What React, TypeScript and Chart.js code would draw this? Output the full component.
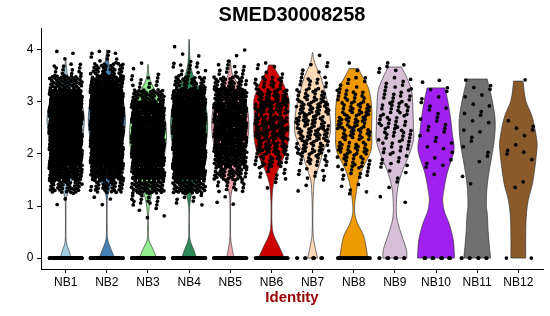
import React, { useEffect, useRef } from "react";
import { Chart, registerables } from "chart.js";

Chart.register(...registerables);

const plotTitle = "SMED30008258";
const xAxisTitle = "Identity";
const categories = ["NB1", "NB2", "NB3", "NB4", "NB5", "NB6", "NB7", "NB8", "NB9", "NB10", "NB11", "NB12"];
const violinColors = ["#A6CEE3", "#4682B4", "#90EE90", "#2E8B57", "#EEA2AD", "#CD0000", "#FFDAB9", "#EE9A00", "#D8BFD8", "#A020F0", "#707070", "#8B5A2B"];
const yTicks = [0, 1, 2, 3, 4];

// number of cells with expression exactly 0, per identity
const zeroCounts = [150, 150, 150, 150, 120, 50, 10, 50, 10, 12, 8, 2];

// histogram of non-zero expression values, bins of 0.25 starting at 0.5 (0.5-0.75, 0.75-1.0, ... 4.0-4.25)
const binLow = 0.5;
const binStep = 0.25;
const binCounts = [
  [0, 0, 3, 40, 90, 140, 180, 200, 200, 180, 130, 50, 15, 3, 0],
  [0, 0, 3, 35, 80, 130, 170, 200, 210, 200, 160, 90, 35, 10, 0],
  [0, 4, 15, 50, 100, 130, 150, 150, 130, 100, 45, 12, 3, 0, 0],
  [0, 0, 8, 50, 110, 160, 180, 190, 180, 150, 90, 35, 12, 3, 1],
  [0, 0, 3, 15, 40, 70, 90, 100, 100, 95, 75, 35, 12, 3, 0],
  [0, 0, 0, 2, 10, 25, 35, 42, 42, 40, 32, 18, 6, 0, 0],
  [0, 0, 0, 2, 9, 18, 26, 30, 30, 30, 22, 13, 5, 2, 0],
  [0, 0, 1, 4, 11, 18, 22, 24, 24, 22, 16, 8, 2, 0, 0],
  [0, 0, 2, 2, 4, 8, 12, 15, 15, 15, 12, 8, 6, 0, 0],
  [0, 0, 0, 0, 2, 4, 5, 5, 5, 5, 4, 3, 0, 0, 0],
  [0, 0, 0, 1, 1, 2, 3, 3, 3, 4, 3, 3, 0, 0, 0],
  [0, 0, 0, 2, 0, 2, 3, 3, 2, 0, 0, 1, 0, 0, 0],
];

// violin density profiles: [expression value, relative half-width]
const violinProfiles = [
  [[0, 0.3], [0.12, 0.2], [0.3, 0.04], [0.5, 0.015], [0.9, 0.015], [1.15, 0.04], [1.4, 0.25], [1.7, 0.55], [2.0, 0.8], [2.4, 0.95], [2.7, 1.0], [3.0, 0.85], [3.3, 0.45], [3.5, 0.12], [3.65, 0.05], [3.8, 0.01]],
  [[0, 0.42], [0.15, 0.25], [0.35, 0.05], [0.6, 0.015], [1.0, 0.015], [1.2, 0.05], [1.45, 0.3], [1.8, 0.6], [2.2, 0.85], [2.6, 1.0], [3.0, 0.9], [3.35, 0.55], [3.6, 0.2], [3.8, 0.08], [4.0, 0.01]],
  [[0, 0.47], [0.15, 0.3], [0.35, 0.05], [0.6, 0.02], [0.85, 0.03], [1.1, 0.12], [1.4, 0.35], [1.7, 0.65], [2.0, 0.9], [2.4, 1.0], [2.8, 0.85], [3.1, 0.55], [3.35, 0.2], [3.5, 0.06], [3.72, 0.01]],
  [[0, 0.4], [0.15, 0.26], [0.35, 0.05], [0.6, 0.015], [0.95, 0.02], [1.2, 0.12], [1.5, 0.4], [1.8, 0.7], [2.2, 0.92], [2.6, 1.0], [3.0, 0.85], [3.3, 0.5], [3.55, 0.18], [3.8, 0.05], [4.2, 0.01]],
  [[0, 0.2], [0.15, 0.12], [0.35, 0.03], [0.6, 0.012], [1.0, 0.015], [1.25, 0.06], [1.5, 0.3], [1.8, 0.6], [2.2, 0.9], [2.6, 1.0], [3.0, 0.85], [3.3, 0.5], [3.5, 0.15], [3.65, 0.05], [3.8, 0.01]],
  [[0, 0.7], [0.22, 0.42], [0.45, 0.12], [0.6, 0.04], [0.9, 0.02], [1.18, 0.04], [1.44, 0.12], [1.69, 0.35], [2.07, 0.81], [2.4, 0.95], [2.75, 0.93], [3.03, 0.95], [3.26, 0.75], [3.45, 0.5], [3.62, 0.22], [3.71, 0.16]],
  [[0, 0.27], [0.22, 0.13], [0.45, 0.03], [1.0, 0.02], [1.3, 0.05], [1.5, 0.1], [1.75, 0.33], [2.07, 0.6], [2.4, 0.95], [2.84, 0.9], [3.15, 0.7], [3.47, 0.45], [3.72, 0.15], [3.85, 0.05], [3.95, 0.01]],
  [[0, 0.76], [0.41, 0.55], [0.67, 0.2], [0.85, 0.06], [1.0, 0.05], [1.12, 0.08], [1.43, 0.22], [1.69, 0.44], [2.07, 0.93], [2.5, 0.97], [2.9, 0.97], [3.26, 0.8], [3.5, 0.45], [3.64, 0.25]],
  [[0, 0.65], [0.16, 0.62], [0.48, 0.33], [0.75, 0.12], [0.99, 0.08], [1.31, 0.14], [1.63, 0.36], [1.94, 0.72], [2.26, 1.0], [2.52, 1.0], [2.9, 0.97], [3.22, 0.9], [3.5, 0.6], [3.67, 0.36]],
  [[0, 1.0], [0.35, 0.93], [0.67, 0.7], [0.9, 0.45], [1.12, 0.36], [1.3, 0.42], [1.63, 0.6], [2.07, 0.97], [2.39, 0.88], [2.65, 0.8], [3.03, 0.63], [3.27, 0.48]],
  [[0, 0.72], [0.48, 0.6], [0.87, 0.54], [0.99, 0.5], [1.3, 0.52], [1.63, 0.63], [2.26, 0.92], [2.65, 0.97], [3.03, 0.81], [3.44, 0.54]],
  [[0, 0.4], [0.41, 0.4], [0.8, 0.43], [1.12, 0.54], [1.44, 0.77], [2.07, 1.0], [2.26, 1.0], [2.71, 0.75], [3.03, 0.4], [3.4, 0.25]],
];

const VIOLIN_HALF = 0.45;
const JITTER = 0.4;
const FONT = '"Liberation Sans", Arial, Helvetica, sans-serif';

const frac = (v: number) => v - Math.floor(v);

function buildPoints(ci: number) {
  const pts: { x: number; y: number }[] = [];
  let k = ci * 7919;
  const cx = ci + 1;
  for (let j = 0; j < zeroCounts[ci]; j++, k++) {
    pts.push({ x: cx + (frac(0.5 + k * 0.7548776662) - 0.5) * 2 * JITTER, y: 0 });
  }
  binCounts[ci].forEach((n, b) => {
    const lo = binLow + b * binStep;
    for (let j = 0; j < n; j++, k++) {
      pts.push({
        x: cx + (frac(0.5 + k * 0.7548776662) - 0.5) * 2 * JITTER,
        y: lo + frac(0.5 + k * 0.569840291) * binStep,
      });
    }
  });
  return pts;
}

function sampleProfile(p: number[][]) {
  const n = p.length;
  const m: number[] = [];
  for (let i = 0; i < n; i++) {
    if (i === 0) m.push((p[1][1] - p[0][1]) / (p[1][0] - p[0][0]));
    else if (i === n - 1) m.push((p[n - 1][1] - p[n - 2][1]) / (p[n - 1][0] - p[n - 2][0]));
    else m.push((p[i + 1][1] - p[i - 1][1]) / (p[i + 1][0] - p[i - 1][0]));
  }
  const out: number[][] = [];
  for (let i = 0; i < n - 1; i++) {
    const h = p[i + 1][0] - p[i][0];
    const steps = 12;
    for (let s = 0; s < steps; s++) {
      const t = s / steps;
      const t2 = t * t, t3 = t2 * t;
      const w =
        (2 * t3 - 3 * t2 + 1) * p[i][1] +
        (t3 - 2 * t2 + t) * h * m[i] +
        (-2 * t3 + 3 * t2) * p[i + 1][1] +
        (t3 - t2) * h * m[i + 1];
      out.push([p[i][0] + t * h, Math.min(1.02, Math.max(0.006, w))]);
    }
  }
  out.push([p[n - 1][0], Math.max(0.006, p[n - 1][1])]);
  return out;
}

const violinPlugin = {
  id: "violins",
  beforeDatasetsDraw(chart: any) {
    const { ctx, scales } = chart;
    const xs = scales.x, ys = scales.y;
    ctx.save();
    violinProfiles.forEach((prof, ci) => {
      const s = sampleProfile(prof);
      const cx = ci + 1;
      ctx.beginPath();
      s.forEach(([v, w], i) => {
        const px = xs.getPixelForValue(cx + w * VIOLIN_HALF);
        const py = ys.getPixelForValue(v);
        if (i === 0) ctx.moveTo(px, py);
        else ctx.lineTo(px, py);
      });
      for (let i = s.length - 1; i >= 0; i--) {
        const [v, w] = s[i];
        ctx.lineTo(xs.getPixelForValue(cx - w * VIOLIN_HALF), ys.getPixelForValue(v));
      }
      ctx.closePath();
      ctx.fillStyle = violinColors[ci];
      ctx.fill();
      ctx.lineWidth = 0.7;
      ctx.strokeStyle = "#333";
      ctx.lineJoin = "round";
      ctx.stroke();
    });
    ctx.restore();
  },
  afterDraw(chart: any) {
    const { ctx, chartArea } = chart;
    ctx.save();
    ctx.font = `bold 20px ${FONT}`;
    ctx.fillStyle = "#000";
    ctx.textAlign = "center";
    ctx.textBaseline = "middle";
    ctx.fillText(plotTitle, (chartArea.left + chartArea.right) / 2, 15);
    ctx.restore();
  },
};

export default function App() {
  const ref = useRef<HTMLCanvasElement>(null);
  useEffect(() => {
    document.body.style.margin = "0";
    if (!ref.current) return;
    const axisCommon = {
      grid: { drawOnChartArea: false, drawTicks: true, tickLength: 4, color: "#000", lineWidth: 1 },
      border: { display: true, color: "#000", width: 1 },
    };
    const chart = new Chart(ref.current, {
      type: "scatter",
      data: {
        datasets: categories.map((name, ci) => ({
          label: name,
          data: buildPoints(ci),
          backgroundColor: "#000",
          borderWidth: 0,
          pointRadius: 1.85,
          pointHoverRadius: 1.85,
        })),
      },
      options: {
        responsive: false,
        animation: false,
        events: [],
        layout: { padding: { top: 28.7, right: 7, left: 0, bottom: 0 } },
        plugins: { legend: { display: false }, tooltip: { enabled: false }, title: { display: false } },
        scales: {
          x: {
            type: "linear",
            min: 0.4,
            max: 12.6,
            afterFit: (s: any) => { s.height = 47; },
            afterBuildTicks: (s: any) => { s.ticks = categories.map((_, i) => ({ value: i + 1 })); },
            ticks: {
              callback: (v: any) => categories[Math.round(v) - 1] ?? "",
              font: { family: FONT, size: 12 },
              color: "#000",
              padding: 2,
              autoSkip: false,
              maxRotation: 0,
            },
            title: {
              display: true,
              text: xAxisTitle,
              color: "#990000",
              font: { family: FONT, size: 15, weight: "bold" },
              padding: { top: 0, bottom: 9 },
            },
            ...axisCommon,
          },
          y: {
            type: "linear",
            min: -0.21,
            max: 4.407,
            afterFit: (s: any) => { s.width = 41; },
            afterBuildTicks: (s: any) => { s.ticks = yTicks.map((v) => ({ value: v })); },
            ticks: {
              font: { family: FONT, size: 12 },
              color: "#000",
              padding: 3.5,
            },
            ...axisCommon,
          },
        },
      } as any,
      plugins: [violinPlugin],
    });
    return () => chart.destroy();
  }, []);
  return <canvas ref={ref} width={550} height={316} style={{ display: "block" }} />;
}
